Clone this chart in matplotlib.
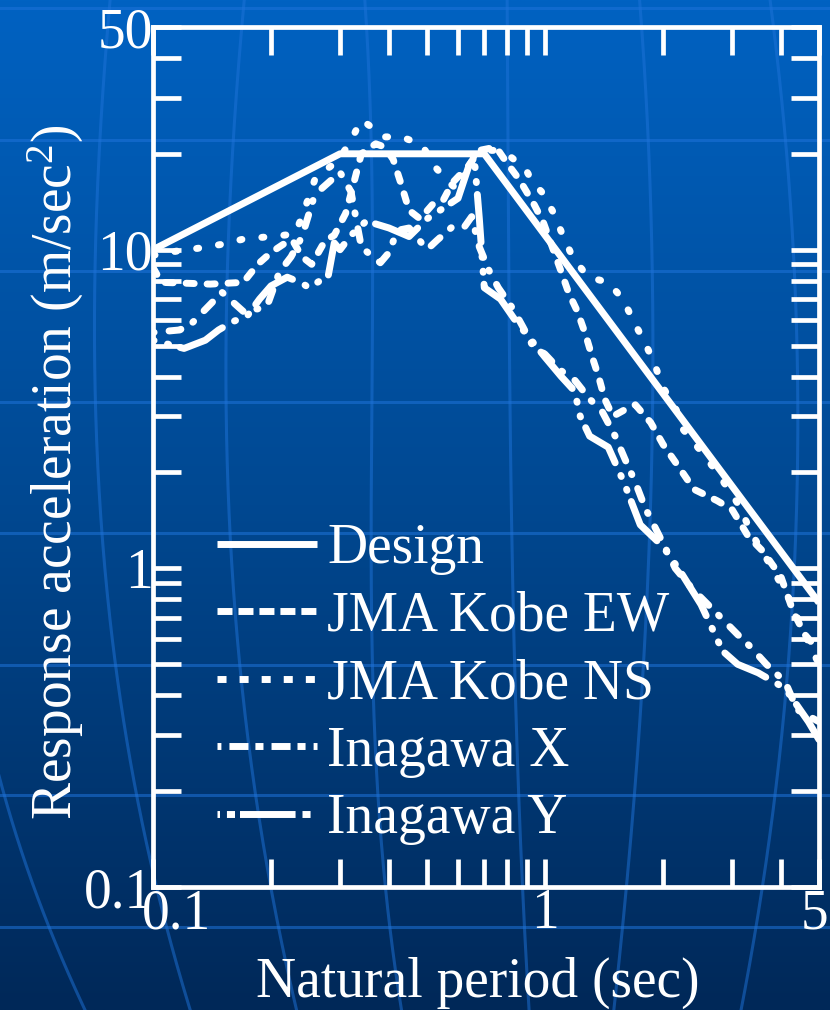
import numpy as np
import matplotlib
matplotlib.use("Agg")
import matplotlib.pyplot as plt
from matplotlib.lines import Line2D
from matplotlib.ticker import FixedLocator, NullFormatter, FixedFormatter
import matplotlib.transforms as mtransforms

plt.rcParams['font.family'] = ['Liberation Serif', 'DejaVu Serif']
plt.rcParams['mathtext.fontset'] = 'custom'
plt.rcParams['mathtext.rm'] = 'Liberation Serif'
plt.rcParams['mathtext.it'] = 'Liberation Serif:italic'
plt.rcParams['lines.scale_dashes'] = False

# ---- spectra (period in s, acceleration in m/s^2) ----
design_T = [0.1, 0.3, 0.7, 5.0]
design_A = [10.0, 20.0, 20.0, 0.78]

kobe_ew_T = [0.1, 0.105, 0.14, 0.17, 0.185, 0.2, 0.22, 0.227, 0.24, 0.254,
             0.275, 0.29, 0.31, 0.32, 0.34, 0.37, 0.39, 0.41, 0.43, 0.45,
             0.48, 0.52, 0.55, 0.58, 0.64, 0.68, 0.75, 0.8, 0.86, 0.94,
             0.99, 1.09, 1.15, 1.21, 1.27, 1.32, 1.37, 1.42, 1.49, 1.6,
             1.7, 1.86, 2.0, 2.2, 2.4, 2.75, 3.0, 3.3, 3.6, 4.0,
             4.3, 4.6, 5.0]
kobe_ew_A = [8.8, 7.9, 7.8, 7.9, 9.0, 9.8, 10.6, 10.7, 9.5, 9.0,
             10.7, 11.1, 13.0, 15.0, 20.0, 21.5, 21.0, 19.2, 16.0, 13.3,
             12.5, 14.0, 14.3, 16.2, 18.4, 20.5, 21.0, 18.7, 16.6, 13.8,
             12.2, 8.8, 7.3, 6.4, 5.4, 4.6, 4.0, 3.4, 3.0, 3.15,
             3.26, 2.87, 2.45, 2.07, 1.77, 1.63, 1.53, 1.26, 1.13, 0.94,
             0.73, 0.62, 0.55]

kobe_ns_T = [0.1, 0.115, 0.13, 0.15, 0.17, 0.2, 0.23, 0.24, 0.26, 0.295,
             0.318, 0.34, 0.39, 0.43, 0.485, 0.52, 0.57, 0.6, 0.64, 0.67,
             0.75, 0.82, 0.89, 0.93, 0.98, 1.05, 1.11, 1.18, 1.29, 1.45,
             1.58, 1.69, 1.8, 1.9, 2.0, 2.16, 2.25, 2.5, 2.75, 3.1,
             3.4, 3.8, 4.2, 4.6, 5.0]
kobe_ns_A = [9.6, 9.9, 10.1, 10.4, 10.8, 11.0, 11.2, 12.7, 16.9, 18.9,
             21.7, 25.6, 22.6, 22.6, 21.4, 18.4, 16.2, 15.4, 18.4, 20.5,
             20.5, 19.5, 18.0, 16.3, 15.2, 13.1, 11.1, 9.4, 8.2, 7.9,
             7.0, 5.9, 5.1, 4.4, 3.7, 3.15, 2.73, 2.33, 2.0, 1.6,
             1.26, 1.0, 0.8, 0.62, 0.5]

inagawa_x_T = [0.1, 0.117, 0.126, 0.141, 0.15, 0.17, 0.195, 0.21, 0.225, 0.24,
               0.256, 0.27, 0.3, 0.31, 0.32, 0.34, 0.36, 0.38, 0.4, 0.42,
               0.45, 0.47, 0.5, 0.53, 0.58, 0.62, 0.65, 0.68, 0.72, 0.76,
               0.83, 0.88, 0.93, 1.0, 1.09, 1.19, 1.3, 1.4, 1.51, 1.6,
               1.7, 1.8, 2.0, 2.15, 2.38, 2.75, 3.1, 3.33, 3.67, 4.1,
               4.4, 5.0]
inagawa_x_A = [5.5, 5.6, 5.9, 6.8, 7.35, 6.4, 6.6, 8.5, 9.5, 11.0,
               14.3, 15.6, 17.5, 16.3, 15.2, 10.2, 9.6, 9.1, 9.8, 11.5,
               11.7, 11.0, 10.0, 10.7, 11.8, 11.7, 12.7, 10.2, 8.6, 7.6,
               6.5, 5.7, 5.0, 4.7, 4.2, 3.9, 3.4, 3.1, 2.6, 2.2,
               1.86, 1.55, 1.2, 1.0, 0.86, 0.72, 0.62, 0.57, 0.5, 0.44,
               0.36, 0.33]

inagawa_y_T = [0.1, 0.12, 0.136, 0.147, 0.16, 0.174, 0.187, 0.2, 0.22, 0.24,
               0.25, 0.28, 0.29, 0.3, 0.32, 0.35, 0.4, 0.45, 0.5, 0.55,
               0.6, 0.64, 0.66, 0.68, 0.7, 0.77, 0.84, 0.9, 1.0, 1.1,
               1.19, 1.23, 1.3, 1.45, 1.59, 1.67, 1.75, 2.0, 2.2, 2.5,
               2.84, 3.1, 3.5, 4.1, 4.7, 5.0]
inagawa_y_A = [5.2, 4.9, 5.2, 5.6, 5.95, 6.2, 7.0, 7.7, 8.2, 7.85,
               7.6, 8.3, 10.5, 10.0, 11.1, 12.3, 11.7, 11.0, 12.5, 13.5,
               14.5, 18.4, 19.5, 12.5, 7.6, 7.0, 6.0, 5.4, 4.6, 4.0,
               3.6, 3.0, 2.6, 2.4, 1.86, 1.59, 1.37, 1.17, 0.99, 0.77,
               0.55, 0.5, 0.47, 0.42, 0.33, 0.29]

series_labels = ['Design', 'JMA Kobe EW', 'JMA Kobe NS', 'Inagawa X', 'Inagawa Y']

x_major = [0.1, 1, 5]
x_major_labels = ['0.1', '1', '5']
x_minor = [0.2, 0.3, 0.4, 0.5, 0.6, 0.7, 0.8, 0.9, 2, 3, 4]
y_major = [0.1, 1, 10, 50]
y_major_labels = ['0.1', '1', '10', '50']
y_minor = [0.2, 0.3, 0.4, 0.5, 0.6, 0.7, 0.8, 0.9,
           2, 3, 4, 5, 6, 7, 8, 9, 20, 30, 40]

FS = 40
W, H = 830, 1010
fig = plt.figure(figsize=(W / 100, H / 100), dpi=100)

# ---- slide background: vertical gradient with faint globe lines ----
bg = fig.add_axes([0, 0, 1, 1], zorder=-10)
bg.set_xlim(0, W)
bg.set_ylim(H, 0)
bg.axis('off')
top = np.array([0, 98, 194]) / 255
mid = np.array([0, 72, 145]) / 255
bot = np.array([0, 40, 88]) / 255
t = np.linspace(0, 1, 400)[:, None]
grad = np.where(t < 0.5, top + (mid - top) * (t / 0.5), mid + (bot - mid) * ((t - 0.5) / 0.5))
bg.imshow(grad[:, None, :].repeat(2, axis=1), extent=[0, W, H, 0], aspect='auto')

line_col = (0.12, 0.45, 0.85)
for yy in [8, 140, 271, 402, 533, 665, 795, 927]:
    bg.plot([0, W], [yy, yy], color=line_col, lw=2.2, alpha=0.55)
meridians = [
    [(-40, 500), (21, 850), (85, 1010)],
    [(110, 0), (95, 300), (107, 600), (137, 793), (190, 1010)],
    [(243, 0), (238, 100), (225, 420), (267, 860), (296, 1010)],
    [(366, 0), (368, 100), (373, 420), (381, 850), (402, 1010)],
    [(507, 0), (508, 100), (510, 420), (521, 850), (529, 1010)],
    [(640, 0), (647, 130), (652, 480), (635, 780), (614, 1010)],
    [(770, 0), (797, 320), (797, 400), (777, 780), (741, 1010)],
]
for pts in meridians:
    xs, ys = np.array(pts, dtype=float).T
    coef = np.polyfit(ys, xs, min(3, len(xs) - 1))
    yy = np.linspace(ys.min(), ys.max(), 200)
    bg.plot(np.polyval(coef, yy), yy, color=line_col, lw=2.2, alpha=0.5)

# ---- spectra axes ----
L, R, T, B = 153, 819, 27, 887
ax = fig.add_axes([L / W, 1 - B / H, (R - L) / W, (B - T) / H])
ax.patch.set_visible(False)
ax.set_xscale('log')
ax.set_yscale('log')
ax.set_xlim(0.1, 5)
ax.set_ylim(0.1, 50)

white = 'white'
lw = 5.0
styles = {
    'design': dict(linestyle='-', solid_capstyle='butt'),
    'ew': dict(linestyle=(0, (5.8, 9.3)), dash_capstyle='round'),
    'ns': dict(linestyle=(0, (1.5, 14.4)), dash_capstyle='round'),
    'x': dict(linestyle=(0, (0.8, 10.8, 8.7, 10.0)), dash_capstyle='round'),
    'y': dict(linestyle=(0, (0.8, 10.0, 0.8, 8.6, 34.6, 10.0)), dash_capstyle='round'),
}
ax.plot(design_T, design_A, color=white, lw=lw, **styles['design'])
ax.plot(kobe_ew_T, kobe_ew_A, color=white, lw=lw, **styles['ew'])
ax.plot(kobe_ns_T, kobe_ns_A, color=white, lw=lw, **styles['ns'])
ax.plot(inagawa_x_T, inagawa_x_A, color=white, lw=lw, **styles['x'])
ax.plot(inagawa_y_T, inagawa_y_A, color=white, lw=lw, **styles['y'])

for s in ax.spines.values():
    s.set_color(white)
    s.set_linewidth(3.4)

ax.xaxis.set_major_locator(FixedLocator(x_major))
ax.xaxis.set_major_formatter(FixedFormatter(x_major_labels))
ax.xaxis.set_minor_locator(FixedLocator(x_minor))
ax.xaxis.set_minor_formatter(NullFormatter())
ax.yaxis.set_major_locator(FixedLocator(y_major))
ax.yaxis.set_major_formatter(FixedFormatter(y_major_labels))
ax.yaxis.set_minor_locator(FixedLocator(y_minor))
ax.yaxis.set_minor_formatter(NullFormatter())
ax.tick_params(which='both', direction='in', length=20, width=3.4, color=white,
               top=True, right=True, labelcolor=white, labelsize=FS)
ax.tick_params(axis='x', which='both', pad=1)
ax.tick_params(axis='y', which='both', pad=0)

# shift the end period labels so they sit clear of the corner and the edge
xlabels = ax.get_xticklabels()
xlabels[0].set_transform(xlabels[0].get_transform() +
                         mtransforms.ScaledTranslation(24 / 100, 0, fig.dpi_scale_trans))
xlabels[-1].set_transform(xlabels[-1].get_transform() +
                          mtransforms.ScaledTranslation(-5 / 100, 0, fig.dpi_scale_trans))

fig.text(478 / W, 1 - 997 / H, 'Natural period (sec)', color=white, fontsize=FS,
         ha='center', va='baseline')
fig.text(56 / W, 1 - 472 / H, 'Response acceleration (m/sec$^{2}$)', color=white,
         fontsize=FS, rotation=90, ha='center', va='center')

# ---- legend ----
handles = [Line2D([], [], color=white, lw=lw, **styles[k])
           for k in ['design', 'ew', 'ns', 'x', 'y']]
for h in handles[1:]:
    h.set_dash_capstyle('butt')
handles[1].set_linestyle((0, (10.8, 4.3)))
handles[2].set_linestyle((0, (6.5, 9.4)))
handles[3].set_linestyle((3, (5.8, 5.8, 13.7, 5.0)))
handles[4].set_linestyle((4, (5.8, 5.0, 5.8, 3.6, 40.0, 5.0)))
leg = ax.legend(handles, series_labels, loc='upper left',
                bbox_to_anchor=(217 / W, 1 - 523 / H), bbox_transform=fig.transFigure,
                frameon=False, fontsize=FS, handlelength=1.8, handletextpad=0.18,
                labelspacing=0.28, borderpad=0, borderaxespad=0)
for txt in leg.get_texts():
    txt.set_color(white)

fig.savefig('out.png', dpi=100)
